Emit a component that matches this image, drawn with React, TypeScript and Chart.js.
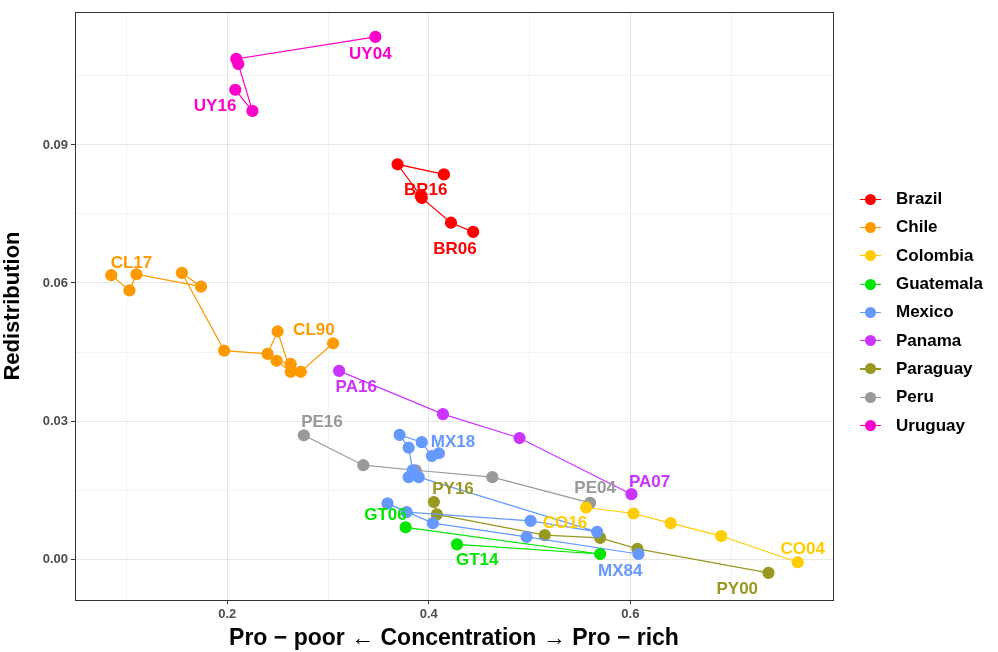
import React, { useEffect, useRef } from "react";
import { Chart, registerables } from "chart.js";
Chart.register(...registerables);

const countries = ["Brazil", "Chile", "Colombia", "Guatemala", "Mexico", "Panama", "Paraguay", "Peru", "Uruguay"];
const colors = ["#FF0000", "#FF9900", "#FFCC00", "#00E600", "#6699FF", "#CC33FF", "#999922", "#999999", "#FF00CC"];

const brazilX = [0.444, 0.422, 0.393, 0.392, 0.369, 0.415];
const brazilY = [0.0711, 0.0731, 0.0785, 0.0789, 0.0858, 0.0836];
const chileX = [0.085, 0.103, 0.110, 0.174, 0.155, 0.197, 0.240, 0.250, 0.263, 0.249, 0.263, 0.273, 0.305];
const chileY = [0.0617, 0.0584, 0.0619, 0.0592, 0.0622, 0.0453, 0.0446, 0.0495, 0.0407, 0.0431, 0.0424, 0.0407, 0.0469];
const colombiaX = [0.556, 0.603, 0.640, 0.690, 0.766];
const colombiaY = [0.0112, 0.0099, 0.0078, 0.0050, -0.0007];
const guatemalaX = [0.377, 0.570, 0.428];
const guatemalaY = [0.0069, 0.0011, 0.0032];
const mexicoX = [0.410, 0.403, 0.393, 0.371, 0.380, 0.384, 0.380, 0.390, 0.567, 0.501, 0.378, 0.359, 0.404, 0.497, 0.608];
const mexicoY = [0.0230, 0.0224, 0.0254, 0.0270, 0.0242, 0.0193, 0.0178, 0.0178, 0.0059, 0.0083, 0.0102, 0.0121, 0.0078, 0.0048, 0.0011];
const panamaX = [0.311, 0.414, 0.490, 0.601];
const panamaY = [0.0409, 0.0315, 0.0263, 0.0141];
const paraguayX = [0.405, 0.408, 0.515, 0.570, 0.607, 0.737];
const paraguayY = [0.0124, 0.0097, 0.0052, 0.0046, 0.0022, -0.0030];
const peruX = [0.276, 0.335, 0.387, 0.463, 0.560];
const peruY = [0.0269, 0.0204, 0.0193, 0.0178, 0.0122];
const uruguayX = [0.347, 0.209, 0.211, 0.225, 0.208];
const uruguayY = [0.1135, 0.1087, 0.1076, 0.0974, 0.1020];

const seriesX = [brazilX, chileX, colombiaX, guatemalaX, mexicoX, panamaX, paraguayX, peruX, uruguayX];
const seriesY = [brazilY, chileY, colombiaY, guatemalaY, mexicoY, panamaY, paraguayY, peruY, uruguayY];

const labelText = ["UY04", "UY16", "BR16", "BR06", "CL17", "CL90", "PA16", "PE16", "MX18", "PY16", "GT06", "CO16", "PE04", "PA07", "GT14", "MX84", "CO04", "PY00"];
const labelSeries = [8, 8, 0, 0, 1, 1, 5, 7, 4, 6, 3, 2, 7, 5, 3, 4, 2, 6];
const labelX = [0.342, 0.188, 0.397, 0.426, 0.105, 0.286, 0.328, 0.294, 0.424, 0.424, 0.357, 0.535, 0.565, 0.619, 0.448, 0.590, 0.771, 0.706];
const labelY = [0.1098, 0.0985, 0.0802, 0.0674, 0.0643, 0.0498, 0.0374, 0.0298, 0.0254, 0.0152, 0.0096, 0.0078, 0.0154, 0.0167, -0.0002, -0.0026, 0.0022, -0.0065];

const majorX = [0.2, 0.4, 0.6];
const majorY = [0, 0.03, 0.06, 0.09];
const isIn = (arr: number[], v: number) => arr.some((t) => Math.abs(t - v) < 1e-6);

const labelPlugin = {
  id: "labels",
  afterDatasetsDraw(chart: any) {
    const { ctx, scales, chartArea } = chart;
    ctx.save();
    ctx.font = "bold 17px Arial, 'Liberation Sans', sans-serif";
    ctx.textAlign = "center";
    ctx.textBaseline = "middle";
    labelText.forEach((t, i) => {
      ctx.fillStyle = colors[labelSeries[i]];
      ctx.fillText(t, scales.x.getPixelForValue(labelX[i]), scales.y.getPixelForValue(labelY[i]));
    });
    ctx.strokeStyle = "#333333";
    ctx.lineWidth = 1;
    ctx.strokeRect(chartArea.left + 0.5, chartArea.top + 0.5, chartArea.right - chartArea.left, chartArea.bottom - chartArea.top);
    ctx.restore();
  },
};

export default function App() {
  const ref = useRef<HTMLCanvasElement>(null);
  useEffect(() => {
    const chart = new Chart(ref.current!, {
      type: "scatter",
      data: {
        datasets: countries.map((c, i) => ({
          label: c,
          data: seriesX[i].map((x, j) => ({ x, y: seriesY[i][j] })),
          showLine: true,
          borderColor: colors[i],
          backgroundColor: colors[i],
          borderWidth: 1.2,
          pointRadius: 5.5,
          pointHoverRadius: 5.5,
        })),
      },
      options: {
        animation: false,
        responsive: false,
        layout: { padding: { top: 12, right: 165, left: 0, bottom: 0 } },
        plugins: { legend: { display: false }, tooltip: { enabled: false } },
        scales: {
          x: {
            type: "linear",
            min: 0.049,
            max: 0.801,
            afterFit: (s: any) => { s.height = 52; },
            afterBuildTicks: (s: any) => { s.ticks = [0.1, 0.2, 0.3, 0.4, 0.5, 0.6, 0.7].map((v) => ({ value: v })); },
            ticks: {
              autoSkip: false,
              maxRotation: 0,
              color: "#4d4d4d",
              font: { size: 13, weight: "bold", family: "Arial, 'Liberation Sans'" },
              callback: (v: any) => (isIn(majorX, v) ? Number(v).toFixed(1) : ""),
            },
            grid: {
              color: (c: any) => (isIn(majorX, c.tick.value) ? "#e6e6e6" : "#f3f3f3"),
              tickLength: 4,
              tickColor: (c: any) => (isIn(majorX, c.tick.value) ? "#333" : "rgba(0,0,0,0)"),
            },
            title: {
              display: true,
              text: "Pro − poor ← Concentration → Pro − rich",
              color: "#000",
              font: { size: 23, weight: "bold", family: "Arial, 'Liberation Sans'" },
              padding: { top: 0, bottom: 0 },
            },
          },
          y: {
            type: "linear",
            min: -0.0089,
            max: 0.1189,
            afterFit: (s: any) => { s.width = 75; },
            afterBuildTicks: (s: any) => { s.ticks = [0, 0.015, 0.03, 0.045, 0.06, 0.075, 0.09, 0.105].map((v) => ({ value: v })); },
            ticks: {
              autoSkip: false,
              color: "#4d4d4d",
              font: { size: 13, weight: "bold", family: "Arial, 'Liberation Sans'" },
              callback: (v: any) => (isIn(majorY, v) ? Number(v).toFixed(2) : ""),
            },
            grid: {
              color: (c: any) => (isIn(majorY, c.tick.value) ? "#e6e6e6" : "#f3f3f3"),
              tickLength: 4,
              tickColor: (c: any) => (isIn(majorY, c.tick.value) ? "#333" : "rgba(0,0,0,0)"),
            },
            title: {
              display: true,
              text: "Redistribution",
              color: "#000",
              font: { size: 22, weight: "bold", family: "Arial, 'Liberation Sans'" },
              padding: { top: 0, bottom: 6 },
            },
          },
        },
      },
      plugins: [labelPlugin],
    });
    return () => chart.destroy();
  }, []);
  return (
    <div style={{ position: "absolute", left: 0, top: 0, width: 998, height: 652, background: "#fff" }}>
      <canvas ref={ref} width={998} height={652} style={{ width: 998, height: 652 }} />
      <div style={{ position: "absolute", left: 860, top: 185, fontFamily: "Arial, 'Liberation Sans', sans-serif", fontWeight: "bold", fontSize: 17 }}>
        {countries.map((c, i) => (
          <div key={c} style={{ display: "flex", alignItems: "center", height: 28.3 }}>
            <span style={{ width: 11, height: 11, borderRadius: "50%", background: colors[i], display: "inline-block", marginLeft: 5, marginRight: 20, position: "relative" }}>
              <span style={{ position: "absolute", left: -5, top: 5, width: 21, height: 1.2, background: colors[i] }} />
            </span>
            <span>{c}</span>
          </div>
        ))}
      </div>
    </div>
  );
}
